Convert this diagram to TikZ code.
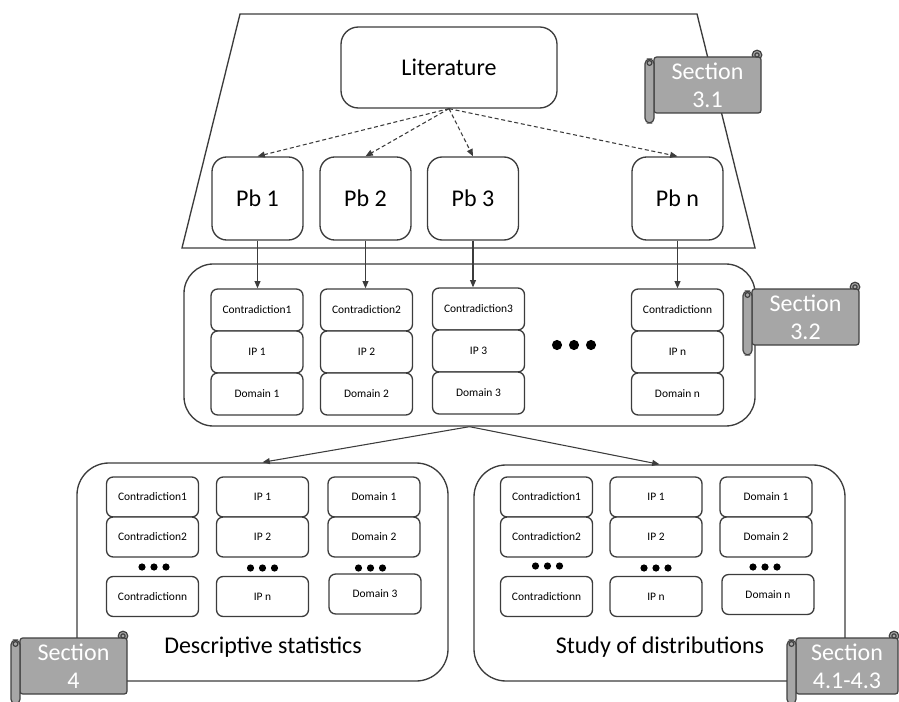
\documentclass[tikz,border=0pt]{standalone}
\usepackage{fontspec}
\setmainfont{Carlito}
\usetikzlibrary{arrows.meta,calc}
\definecolor{edge}{HTML}{3C3C3C}
\definecolor{flaggray}{HTML}{A6A6A6}
\definecolor{flagedge}{HTML}{404040}
\tikzset{
  box/.style={draw=edge, line width=1pt, fill=white, inner sep=0pt, align=center},
  litbox/.style={box, minimum width=162pt, minimum height=60.75pt, rounded corners=13pt, font=\fontsize{18}{21}\selectfont},
  pbbox/.style={box, minimum width=68.25pt, minimum height=62.25pt, rounded corners=11pt, font=\fontsize{18}{21}\selectfont},
  cell/.style={box, minimum width=69pt, minimum height=31.5pt, rounded corners=5pt, font=\fontsize{8.6}{10}\selectfont},
  bcell/.style={box, minimum width=69pt, minimum height=30pt, rounded corners=5pt, font=\fontsize{8.6}{10}\selectfont},
  panel/.style={draw=edge, line width=1pt, inner sep=0pt, rounded corners=22pt},
  conn/.style={draw=edge, line width=0.8pt, -{Triangle[length=5.5pt,width=4.5pt]}},
  dconn/.style={conn, dash pattern=on 3pt off 2pt},
  flagline/.style={draw=flagedge, line width=0.9pt},
  flagtext/.style={text=white, align=center, inner sep=0pt, font=\fontsize{18}{21}\selectfont},
  bigtext/.style={inner sep=0pt, font=\fontsize{18}{21}\selectfont},
}
% #1 x0, #2 y0 (body top-left), #3 body width, #4 name, #5 second line
\newcommand{\scrollflag}[5]{%
  \begin{scope}[shift={(#1,#2)}]
    \draw[flagline, fill=flaggray] (#3-4,-2) circle[radius=3.6pt];
    \draw[flagline, fill=flaggray, rounded corners=2pt] (0,0) -- (#3,0) -- (#3,56) -- (0,56) -- cycle;
    \draw[flagline, fill=flaggray, rounded corners=3.5pt] (-9,2) rectangle (0,66);
    \draw[flagline] (-4.5,6) circle[radius=1.8pt];
    \draw[flagline] (#3-4,-2) circle[radius=1.6pt];
  \end{scope}
  \node[flagtext] (#4) at ($(#1,#2)+(#3/2,28)$) {Section\\#5};
}
\newcommand{\threedots}[3]{% centre x, y, spacing
  \fill[black] (#1-#3,#2) circle[radius=2.7pt];
  \fill[black] (#1,#2) circle[radius=2.7pt];
  \fill[black] (#1+#3,#2) circle[radius=2.7pt];
}
\begin{document}
\begin{tikzpicture}[x=0.75pt,y=-0.75pt]
\useasboundingbox (0,0) rectangle (899,702);

% ---------- top: literature ----------
\draw[draw=edge, line width=1pt] (240,14) -- (697,14) -- (755,248) -- (182,248) -- cycle;
\node[litbox] (lit) at (449,67.5) {Literature};
\node[pbbox] (pb1) at (257.5,198.5) {Pb 1};
\node[pbbox] (pb2) at (365.5,198.5) {Pb 2};
\node[pbbox] (pb3) at (473,198.5) {Pb 3};
\node[pbbox] (pbn) at (677.5,198.5) {Pb n};
\foreach \p in {pb1,pb2,pb3,pbn} \draw[dconn] (lit.south) -- (\p.north);
\scrollflag{654}{57}{107}{s31}{3.1}

% ---------- middle ----------
\node[panel, minimum width=428.25pt, minimum height=121.5pt] (mid) at (469.5,345) {};
\node[cell] (c1a) at (257,310) {Contradiction1};
\node[cell] (c1b) at (257,352) {IP 1};
\node[cell] (c1c) at (257,394) {Domain 1};
\node[cell] (c2a) at (366.5,310) {Contradiction2};
\node[cell] (c2b) at (366.5,352) {IP 2};
\node[cell] (c2c) at (366.5,394) {Domain 2};
\node[cell] (c3a) at (478.5,309) {Contradiction3};
\node[cell] (c3b) at (478.5,351) {IP 3};
\node[cell] (c3c) at (478.5,393) {Domain 3};
\node[cell] (cna) at (677.5,310) {Contradictionn};
\node[cell] (cnb) at (677.5,352) {IP n};
\node[cell] (cnc) at (677.5,394) {Domain n};
\draw[conn] (pb1.south) -- (pb1.south |- c1a.north);
\draw[conn] (pb2.south) -- (pb2.south |- c2a.north);
\draw[conn] (pb3.south) -- (pb3.south |- c3a.north);
\draw[conn] (pbn.south) -- (pbn.south |- cna.north);
\begin{scope}[line width=0pt]
\fill[black] (557,345) circle[radius=3.8pt];
\fill[black] (574,345) circle[radius=3.8pt];
\fill[black] (591,345) circle[radius=3.8pt];
\end{scope}
\scrollflag{752}{289}{107}{s32}{3.2}

% ---------- bottom panels ----------
\node[panel, rounded corners=24pt, minimum width=278.25pt, minimum height=163.5pt] (lb) at (262.5,572) {};
\node[panel, rounded corners=24pt, minimum width=278.25pt, minimum height=162pt] (rb) at (659.5,573) {};
\draw[conn] (mid.south) -- (lb.north);
\draw[conn] (mid.south) -- (rb.north);

\node[bcell] (l1a) at (152.5,497) {Contradiction1};
\node[bcell] (l1b) at (152.5,537) {Contradiction2};
\node[bcell] (l1c) at (152.5,596.5) {Contradictionn};
\node[bcell] (l2a) at (262.5,497) {IP 1};
\node[bcell] (l2b) at (262.5,537) {IP 2};
\node[bcell] (l2c) at (262.5,596.5) {IP n};
\node[bcell] (l3a) at (374,497) {Domain 1};
\node[bcell] (l3b) at (374,537) {Domain 2};
\node[bcell] (l3c) at (375,594) {Domain 3};
\threedots{154}{567}{12}
\threedots{262.5}{568}{12}
\threedots{370.5}{568}{12}
\node[bigtext] (ds) at (263,647) {Descriptive statistics};

\node[bcell] (r1a) at (546.5,497) {Contradiction1};
\node[bcell] (r1b) at (546.5,537) {Contradiction2};
\node[bcell] (r1c) at (546.5,596.5) {Contradictionn};
\node[bcell] (r2a) at (656,497) {IP 1};
\node[bcell] (r2b) at (656,537) {IP 2};
\node[bcell] (r2c) at (656,596.5) {IP n};
\node[bcell] (r3a) at (766,497) {Domain 1};
\node[bcell] (r3b) at (766,537) {Domain 2};
\node[bcell] (r3c) at (768,594.5) {Domain n};
\threedots{547.5}{566}{12}
\threedots{656}{568}{12}
\threedots{765}{567}{12}
\node[bigtext] (sd) at (660,647) {Study of distributions};

\scrollflag{20}{638}{107}{s4}{4}
\scrollflag{796}{638}{102}{s41}{4.1-4.3}
\end{tikzpicture}
\end{document}
